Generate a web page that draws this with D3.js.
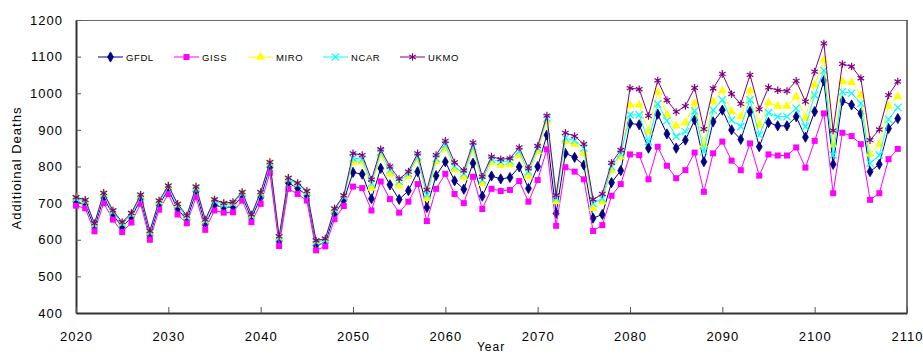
<!DOCTYPE html>
<html>
<head>
<meta charset="utf-8">
<script src="https://cdn.jsdelivr.net/npm/d3@7"></script>
<style>
  html, body { margin: 0; padding: 0; background: #fff; }
  svg { display: block; font-family: "Liberation Sans", Arial, sans-serif; }
</style>
</head>
<body>
<svg id="chart" width="923" height="355"></svg>
<script>
const years = d3.range(2020, 2110);
const seriesNames = ["GFDL", "GISS", "MIRO", "NCAR", "UKMO"];
const xTicks = [2020, 2030, 2040, 2050, 2060, 2070, 2080, 2090, 2100, 2110];
const yTicks = [400, 500, 600, 700, 800, 900, 1000, 1100, 1200];

const GFDL = [704,697,634,715,668,635,661,711,612,695,737,684,655,731,641,695,688,690,719,659,715,798,596,755,741,721,585,592,671,707,
  784,779,712,795,750,710,734,786,688,775,813,761,738,809,719,774,766,770,799,740,800,886,672,836,825,804,659,669,756,789,
  918,914,850,943,889,850,872,927,813,922,954,900,874,950,854,920,911,911,936,880,950,1034,806,979,968,945,786,806,904,931];
const GISS = [693,686,623,700,655,621,647,698,600,682,725,669,645,716,627,680,674,675,707,648,698,783,583,739,725,707,571,582,656,692,
  745,741,680,759,711,674,704,752,651,739,780,725,700,772,684,739,733,736,760,704,763,847,638,798,786,765,624,640,720,752,
  833,831,765,854,802,768,790,838,731,836,868,816,790,863,775,833,830,830,852,797,870,945,727,892,883,861,709,727,820,848];
const MIRO = [714,707,643,726,678,646,671,721,622,705,746,696,664,743,653,708,698,701,728,667,728,810,607,767,753,731,596,601,683,719,
  812,812,741,831,780,747,774,820,713,813,850,792,770,845,754,811,803,805,831,774,841,922,704,868,861,836,686,704,790,827,
  968,968,895,1004,941,911,920,973,859,977,1007,950,936,1007,913,974,965,965,991,932,1023,1091,859,1032,1030,995,834,861,965,991];
const NCAR = [712,705,641,724,676,644,669,719,620,703,744,694,662,741,651,706,696,699,726,665,726,808,605,765,751,729,594,599,681,717,
  823,820,754,840,791,759,781,827,722,822,859,800,780,854,763,820,813,815,841,786,850,932,713,877,871,850,699,713,800,834,
  941,941,868,971,925,882,895,952,841,954,982,927,909,982,886,947,936,936,959,909,995,1062,831,1004,1000,972,809,831,929,961];
const UKMO = [716,709,645,728,680,648,673,723,624,707,748,698,666,745,655,710,700,703,730,669,730,812,609,769,755,733,598,603,685,721,
  836,831,764,847,800,766,786,836,736,831,870,811,789,865,772,827,820,822,852,795,856,939,722,892,883,861,710,725,810,845,
  1014,1011,938,1035,981,949,965,1015,902,1013,1053,998,971,1050,956,1016,1008,1006,1034,977,1059,1136,898,1080,1073,1041,872,901,995,1032];

const seriesValues = [GFDL, GISS, MIRO, NCAR, UKMO];
const colors = ["#000080", "#FF00FF", "#FFFF00", "#00FFFF", "#800080"];

const svg = d3.select("#chart");
const L = 76, R = 907, T = 20, B = 313;
const x = d3.scaleLinear().domain([2020, 2110]).range([L, R]);
const y = d3.scaleLinear().domain([400, 1200]).range([B, T]);

// frame: top and right
svg.append("line").attr("x1", L).attr("x2", R).attr("y1", T + 0.5).attr("y2", T + 0.5)
  .attr("stroke", "#666").attr("stroke-width", 1);
svg.append("line").attr("x1", R).attr("x2", R).attr("y1", T).attr("y2", B)
  .attr("stroke", "#444").attr("stroke-width", 1.5);

// axes
const yAxis = d3.axisLeft(y).tickValues(yTicks).tickFormat(d3.format("d")).tickSize(-5).tickPadding(13).tickSizeOuter(0);
const gy = svg.append("g").attr("transform", `translate(${L},0)`).call(yAxis);
gy.select(".domain").attr("stroke", "#333").attr("stroke-width", 2);
gy.selectAll(".tick line").attr("stroke", "#555");
gy.selectAll(".tick text").attr("font-size", 13).attr("letter-spacing", "1px").attr("fill", "#000")
  .attr("font-family", "Liberation Sans, Arial, sans-serif");

const xAxis = d3.axisBottom(x).tickValues(xTicks).tickFormat(d3.format("d")).tickSize(-6).tickPadding(19).tickSizeOuter(0);
const gx = svg.append("g").attr("transform", `translate(0,${B})`).call(xAxis);
gx.select(".domain").attr("stroke", "#333").attr("stroke-width", 2);
gx.selectAll(".tick line").attr("stroke", "#555");
gx.selectAll(".tick text").attr("font-size", 13).attr("letter-spacing", "1px").attr("fill", "#000")
  .attr("font-family", "Liberation Sans, Arial, sans-serif");

// axis titles
svg.append("text").attr("transform", "translate(21,168) rotate(-90)")
  .attr("text-anchor", "middle").attr("font-size", 13).attr("letter-spacing", "1px")
  .text("Additioinal Deaths");
svg.append("text").attr("x", 491).attr("y", 351).attr("text-anchor", "middle")
  .attr("font-size", 12).attr("letter-spacing", "1px").text("Year");

// markers
function drawMarker(g, i, cx, cy) {
  const c = colors[i];
  if (i === 0) {
    g.append("path").attr("d", d3.symbol(d3.symbolDiamond, 30)()).attr("transform", `translate(${cx},${cy})`)
      .attr("fill", c).attr("stroke", c).attr("stroke-width", 0.8);
  } else if (i === 1) {
    g.append("path").attr("d", d3.symbol(d3.symbolSquare, 36)()).attr("transform", `translate(${cx},${cy})`)
      .attr("fill", c);
  } else if (i === 2) {
    g.append("path").attr("d", d3.symbol(d3.symbolTriangle, 36)()).attr("transform", `translate(${cx},${cy})`)
      .attr("fill", c);
  } else if (i === 3) {
    g.append("path").attr("d", d3.symbol(d3.symbolX, 36)()).attr("transform", `translate(${cx},${cy})`)
      .attr("fill", "none").attr("stroke", c).attr("stroke-width", 1.2);
  } else {
    g.append("path").attr("d", d3.symbol(d3.symbolAsterisk, 40)()).attr("transform", `translate(${cx},${cy})`)
      .attr("fill", "none").attr("stroke", c).attr("stroke-width", 1.2);
  }
}

const line = d3.line().x((d, k) => x(years[k])).y(d => y(d));

seriesValues.forEach((vals, i) => {
  const g = svg.append("g");
  g.append("path").datum(vals).attr("d", line).attr("fill", "none")
    .attr("stroke", colors[i]).attr("stroke-width", 1);
  vals.forEach((v, k) => drawMarker(g, i, x(years[k]), y(v)));
});

// legend
const legendX = [98, 174, 248, 323, 400];
const legendY = 57;
seriesNames.forEach((name, i) => {
  const g = svg.append("g");
  const lx = legendX[i];
  g.append("line").attr("x1", lx).attr("x2", lx + 25).attr("y1", legendY).attr("y2", legendY)
    .attr("stroke", colors[i]).attr("stroke-width", 1);
  drawMarker(g, i, lx + 12.5, legendY);
  g.append("text").attr("x", lx + 28).attr("y", legendY + 3.5).attr("font-size", 9.5)
    .attr("letter-spacing", "0.6px").text(name);
});
</script>
</body>
</html>
